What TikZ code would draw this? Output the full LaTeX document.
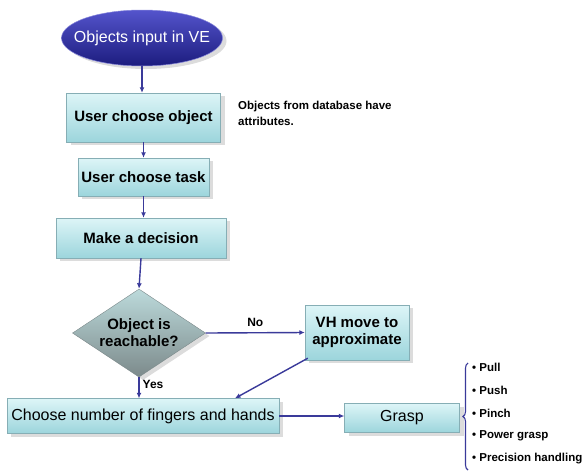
\documentclass[tikz,border=0pt]{standalone}
\usepackage{fontspec}
\setmainfont{Liberation Sans}
\usetikzlibrary{shapes.geometric,arrows.meta,shadows,decorations.pathreplacing}

\definecolor{lineblue}{HTML}{3A3A9A}
\definecolor{boxtop}{HTML}{DDF5F7}
\definecolor{boxbot}{HTML}{9CD5DC}
\definecolor{boxline}{HTML}{86AEB5}
\definecolor{ovaltop}{HTML}{5454CC}
\definecolor{ovalbot}{HTML}{1C1C7E}
\definecolor{diatop}{HTML}{BCDADB}
\definecolor{diabot}{HTML}{7C8A8B}

\tikzset{
  shadowed/.style={drop shadow={shadow xshift=4pt,shadow yshift=-3pt,opacity=.28}},
  stepbox/.style={rectangle, draw=boxline, line width=.4pt, top color=boxtop,
    bottom color=boxbot, shadowed, inner sep=2pt, align=center,
    font=\fontsize{15}{17}\selectfont\bfseries},
  arr/.style={draw=lineblue, line width=1.4pt, -{Latex[length=5.5pt,width=5pt]}},
  lbl/.style={font=\fontsize{12}{14}\selectfont\bfseries, inner sep=1pt},
  item/.style={anchor=west, font=\fontsize{11.5}{13}\selectfont\bfseries, inner sep=0pt}
}

\begin{document}
\begin{tikzpicture}[x=1pt,y=1pt]
\useasboundingbox (0,0) rectangle (585,-472);

\node[ellipse, draw=ovaltop!70!white, line width=.5pt, top color=ovaltop, bottom color=ovalbot,
  shadowed, text=white, minimum width=161pt, minimum height=56pt, inner sep=0pt, inner xsep=-12pt,
  font=\fontsize{16}{18}\selectfont] (start) at (142,-38) {Objects input in VE};
\node[stepbox, minimum width=154pt, minimum height=49pt] (obj) at (143.5,-117.5) {User choose object};
\node[stepbox, minimum width=131pt, minimum height=38pt] (task) at (143.5,-177) {User choose task};
\node[stepbox, minimum width=170pt, minimum height=40pt] (decide) at (141,-238) {Make a decision};
\node[diamond, aspect=1.5, draw=diabot, line width=.4pt, top color=diatop, bottom color=diabot, shadowed,
  minimum width=133pt, minimum height=88pt, inner sep=0pt, align=center,
  font=\fontsize{15}{17}\selectfont\bfseries] (reach) at (139,-333) {Object is\\reachable?};
\node[stepbox, minimum width=104pt, minimum height=55pt] (move) at (357,-332.5) {VH move to\\approximate};
\node[stepbox, minimum width=272pt, minimum height=35pt, font=\fontsize{16}{18}\selectfont]
  (fingers) at (143,-416) {Choose number of fingers and hands};
\node[stepbox, minimum width=115pt, minimum height=29pt, font=\fontsize{16}{18}\selectfont]
  (grasp) at (402,-418) {Grasp};

\node[anchor=north west, align=left, inner sep=0pt, font=\fontsize{11.5}{15.5}\selectfont\bfseries]
  (note) at (238,-101) {Objects from database have\\attributes.};

\draw[arr] (start.south) -- (start.south |- obj.north);
\draw[arr] (obj.south) -- (obj.south |- task.north);
\draw[arr] (task.south) -- (task.south |- decide.north);
\draw[arr] (decide.south) -- (reach.north);
\draw[arr] (reach.east) -- node[lbl, above=4pt] (no) {No} (move.west);
\draw[arr] (reach.south) -- node[lbl, right=2pt, pos=.35] (yes) {Yes} (reach.south |- fingers.north);
\draw[arr] ([xshift=3pt,yshift=2pt]move.south west) -- ([xshift=92pt]fingers.north);
\draw[arr] (fingers.east) -- (fingers.east -| grasp.west);

\node[item] (pull) at (472,-367) {\textbullet\ Pull};
\node[item] (push) at (472,-390) {\textbullet\ Push};
\node[item] (pinch) at (472,-413) {\textbullet\ Pinch};
\node[item] (power) at (472,-436) {\textbullet\ Power grasp};
\node[item] (prec) at (472,-459) {\textbullet\ Precision handling};
\draw[lineblue, line width=1.1pt, decorate, decoration={brace, amplitude=5pt}]
  (468,-470) -- (468,-363);
\end{tikzpicture}
\end{document}
